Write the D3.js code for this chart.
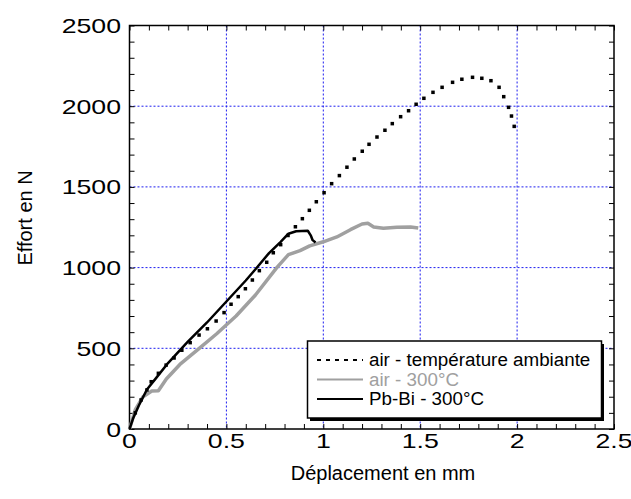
<!DOCTYPE html>
<html>
<head>
<meta charset="utf-8">
<script src="https://cdn.jsdelivr.net/npm/d3@7"></script>
<style>
  body { margin: 0; background: #fff; }
  text { font-family: "Liberation Sans", Arial, sans-serif; fill: #000; }
</style>
</head>
<body>
<svg></svg>
<script>
// data
var airAmbX = [0.03, 0.06, 0.09, 0.112, 0.149, 0.189, 0.23, 0.27, 0.313, 0.359, 0.402, 0.447, 0.488, 0.524,
    0.561, 0.598, 0.634, 0.670, 0.708, 0.742, 0.780, 0.818, 0.856, 0.892, 0.928, 0.964, 1.004, 1.043, 1.083,
    1.122, 1.160, 1.201, 1.236, 1.277, 1.318, 1.356, 1.399, 1.440, 1.479, 1.519, 1.566, 1.613, 1.667, 1.715,
    1.770, 1.818, 1.865, 1.907, 1.931, 1.956, 1.971, 1.985];
var airAmbY = [100, 180, 242, 293, 345, 396, 440, 488, 535, 582, 621, 669, 721, 773,
    820, 869, 923, 981, 1033, 1092, 1142, 1199, 1253, 1303, 1355, 1408, 1464, 1520, 1570,
    1622, 1673, 1721, 1764, 1809, 1851, 1892, 1935, 1972, 2012, 2049, 2086, 2117, 2148, 2167,
    2179, 2173, 2158, 2117, 2059, 1993, 1939, 1875];

var air300X = [0, 0.03, 0.07, 0.115, 0.149, 0.19, 0.26, 0.36, 0.45, 0.55, 0.65, 0.76, 0.82, 0.88, 0.93,
    1.0, 1.07, 1.14, 1.2, 1.23, 1.26, 1.31, 1.38, 1.45, 1.49];
var air300Y = [0, 120, 200, 235, 237, 310, 400, 500, 590, 700, 830, 1000, 1080, 1105, 1135,
    1160, 1190, 1235, 1270, 1275, 1252, 1244, 1250, 1252, 1245];

var pbX = [0, 0.02, 0.05, 0.09, 0.14, 0.2, 0.3, 0.4, 0.5, 0.6, 0.65, 0.72, 0.78, 0.82, 0.86, 0.92,
    0.935, 0.945, 0.96];
var pbY = [0, 70, 150, 245, 320, 410, 540, 660, 790, 920, 990, 1090, 1160, 1210, 1225, 1228,
    1200, 1170, 1155];

var xTicks = [0, 0.5, 1, 1.5, 2, 2.5];
var yTicks = [0, 500, 1000, 1500, 2000, 2500];
var legendNames = ["air - température ambiante", "air - 300°C", "Pb-Bi - 300°C"];

var svg = d3.select("svg")
    .attr("width", 631)
    .attr("height", 499);

var pLeft = 129.5, pRight = 614, pTop = 25.5, pBottom = 429;

var x = d3.scaleLinear().domain([0, 2.5]).range([pLeft, pRight]);
var y = d3.scaleLinear().domain([0, 2500]).range([pBottom, pTop]);

// grid
var grid = svg.append("g")
    .style("stroke", "#1c1cf0")
    .style("stroke-width", 1)
    .style("stroke-dasharray", "2,2");
xTicks.slice(1, -1).forEach(function(v) {
    grid.append("line").attr("x1", x(v)).attr("x2", x(v)).attr("y1", pTop).attr("y2", pBottom);
});
yTicks.slice(1, -1).forEach(function(v) {
    grid.append("line").attr("x1", pLeft).attr("x2", pRight).attr("y1", y(v)).attr("y2", y(v));
});

// minor ticks, inside, on all four sides
var xMinor = d3.range(0, 26).map(function(i) { return i / 10; });
var yMinor = d3.range(0, 26).map(function(i) { return i * 100; });

svg.append("g").attr("transform", "translate(0," + pBottom + ")")
    .call(d3.axisBottom(x).tickValues(xMinor).tickSize(-5).tickFormat(""));
svg.append("g").attr("transform", "translate(0," + pTop + ")")
    .call(d3.axisTop(x).tickValues(xMinor).tickSize(-5).tickFormat(""));
svg.append("g").attr("transform", "translate(" + pLeft + ",0)")
    .call(d3.axisLeft(y).tickValues(yMinor).tickSize(-5).tickFormat(""));
svg.append("g").attr("transform", "translate(" + pRight + ",0)")
    .call(d3.axisRight(y).tickValues(yMinor).tickSize(-5).tickFormat(""));
svg.selectAll(".domain").remove();
svg.selectAll(".tick text").remove();
svg.selectAll(".tick line").style("stroke", "#000");

// tick labels (the original font is drawn wide)
svg.append("g").selectAll("text")
    .data(xTicks).enter().append("text")
    .attr("transform", function(d) { return "translate(" + x(d) + ",448) scale(1.27,1)"; })
    .attr("text-anchor", "middle")
    .style("font-size", "21px")
    .text(function(d) { return d; });

svg.append("g").selectAll("text")
    .data(yTicks).enter().append("text")
    .attr("transform", function(d) { return "translate(121," + (y(d) + 7.5) + ") scale(1.27,1)"; })
    .attr("text-anchor", "end")
    .style("font-size", "21px")
    .text(function(d) { return d; });

// axis titles
svg.append("text")
    .attr("x", 383)
    .attr("y", 480)
    .attr("text-anchor", "middle")
    .style("font-size", "20px")
    .text("Déplacement en mm");

svg.append("text")
    .attr("text-anchor", "middle")
    .attr("transform", "translate(31.5,218)rotate(-90)")
    .style("font-size", "20px")
    .text("Effort en N");

// frame
svg.append("rect")
    .attr("x", pLeft).attr("y", pTop)
    .attr("width", pRight - pLeft).attr("height", pBottom - pTop)
    .style("fill", "none")
    .style("stroke", "#000")
    .style("stroke-width", 1.5);

// series
var line = d3.line()
    .x(function(d) { return x(d[0]); })
    .y(function(d) { return y(d[1]); });

var air300 = air300X.map(function(v, i) { return [v, air300Y[i]]; });
var pb = pbX.map(function(v, i) { return [v, pbY[i]]; });
var airAmb = airAmbX.map(function(v, i) { return [v, airAmbY[i]]; });

svg.append("path")
    .datum(air300)
    .attr("d", line)
    .style("fill", "none")
    .style("stroke", "#a0a0a0")
    .style("stroke-width", 3.5)
    .style("stroke-linejoin", "round");

svg.append("path")
    .datum(pb)
    .attr("d", line)
    .style("fill", "none")
    .style("stroke", "#000")
    .style("stroke-width", 2.5)
    .style("stroke-linejoin", "round");

svg.append("g").selectAll("rect")
    .data(airAmb).enter().append("rect")
    .attr("x", function(d) { return x(d[0]) - 1.75; })
    .attr("y", function(d) { return y(d[1]) - 1.75; })
    .attr("width", 3.5)
    .attr("height", 3.5)
    .style("fill", "#000");

// legend
var lg = svg.append("g");
lg.append("rect")
    .attr("x", 310).attr("y", 344).attr("width", 294).attr("height", 77)
    .style("fill", "#000");
lg.append("rect")
    .attr("x", 307.5).attr("y", 341).attr("width", 294).attr("height", 77)
    .style("fill", "#fff")
    .style("stroke", "#000")
    .style("stroke-width", 1.5);

var legStroke = ["#000", "#a0a0a0", "#000"];
var legDash = ["4,5", null, null];
var legText = ["#000", "#a0a0a0", "#000"];
legendNames.forEach(function(name, i) {
    var yy = 360 + i * 19.5;
    lg.append("line")
        .attr("x1", 317).attr("x2", 363).attr("y1", yy).attr("y2", yy)
        .style("stroke", legStroke[i])
        .style("stroke-width", 2)
        .style("stroke-dasharray", legDash[i]);
    lg.append("text")
        .attr("x", 369)
        .attr("y", yy + 6)
        .style("font-size", "18.8px")
        .style("fill", legText[i])
        .text(name);
});
</script>
</body>
</html>
